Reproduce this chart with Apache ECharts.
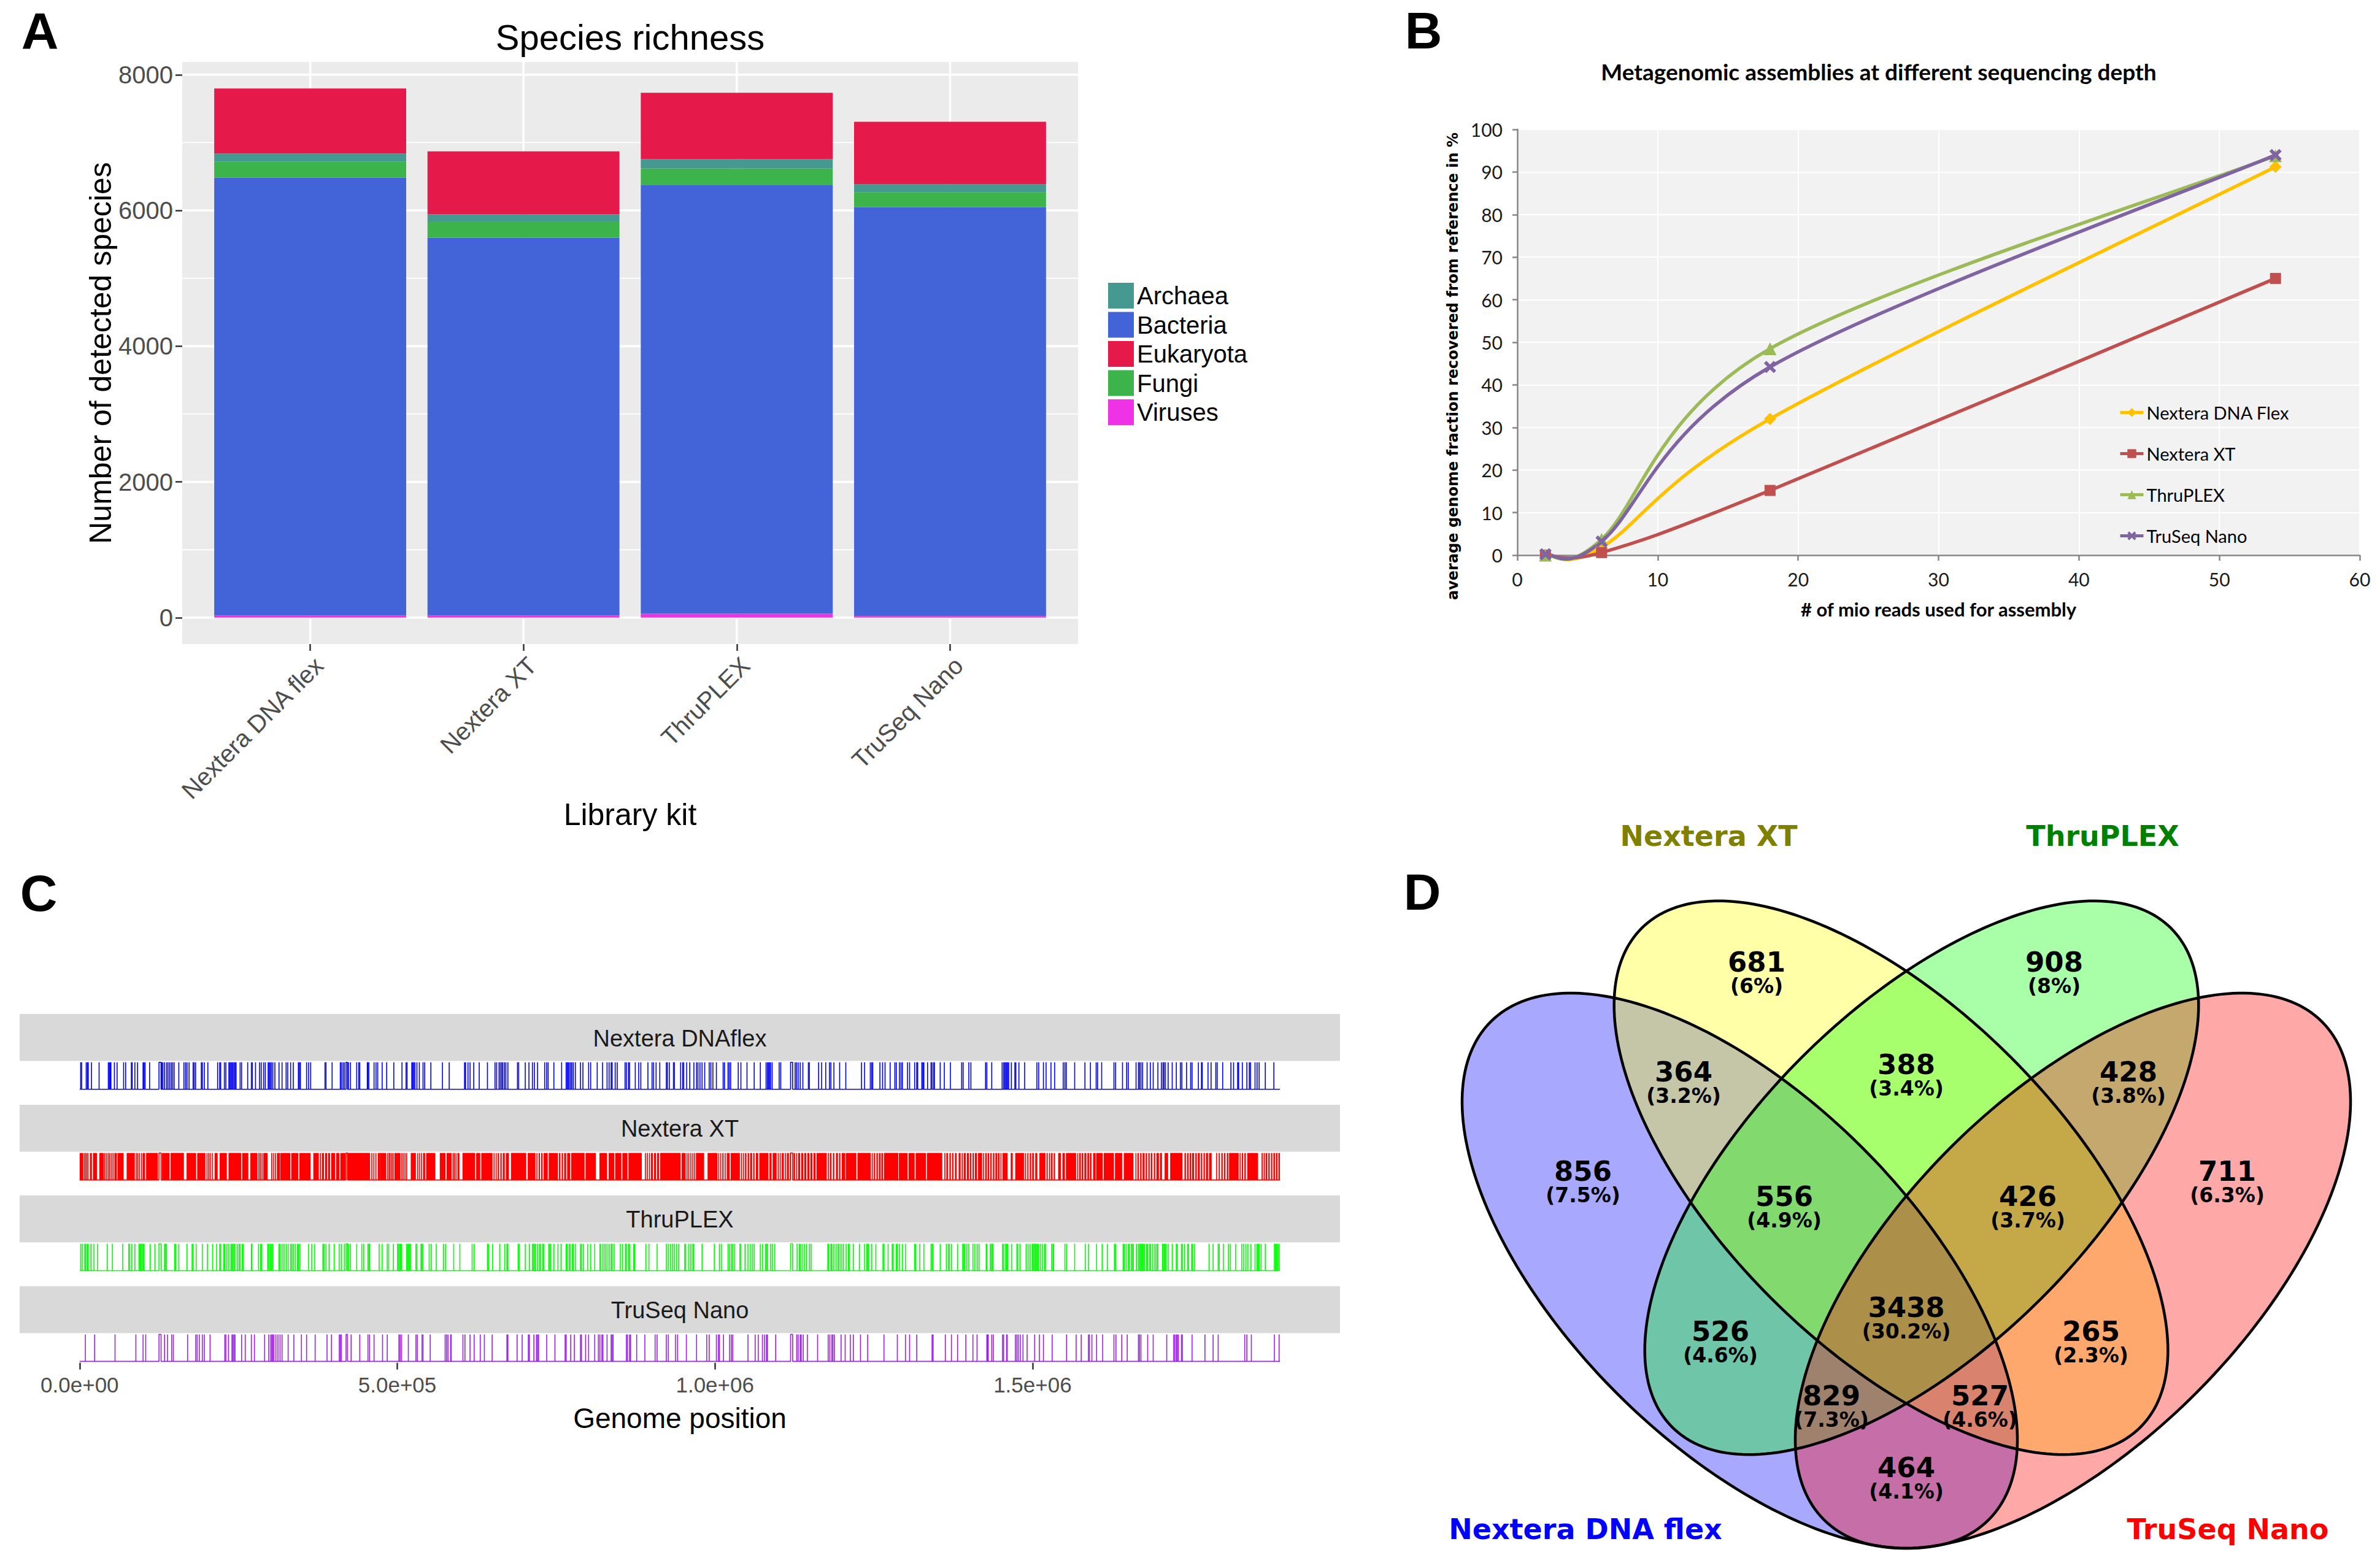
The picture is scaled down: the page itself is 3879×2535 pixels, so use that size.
<!DOCTYPE html>
<html><head><meta charset="utf-8">
<script src="https://cdn.jsdelivr.net/npm/echarts@6/dist/echarts.min.js"></script>
<style>html,body{margin:0;padding:0;background:#fff}#c{width:3879px;height:2535px}</style>
</head><body><div id="c"></div>
<script>
// ================= DATA =================
// Panel A : species richness (stacked)
const kits = ['Nextera DNA flex', 'Nextera XT', 'ThruPLEX', 'TruSeq Nano'];
const viruses   = [32, 32, 57, 24];
const bacteria  = [6450, 5563, 6321, 6023];
const fungi     = [235, 242, 242, 218];
const archaea   = [121, 105, 137, 121];
const eukaryota = [960, 928, 977, 920];
const richnessTicks = [0, 2000, 4000, 6000, 8000];
const richnessMinorTicks = [1000, 3000, 5000, 7000];
const kingdomLegend = ['Archaea', 'Bacteria', 'Eukaryota', 'Fungi', 'Viruses'];

// Panel B : assemblies at different depth
const mioReads   = [2, 6, 18, 54];
const fracFlex   = [0, 1.8, 32.0, 91.2];
const fracXT     = [0, 0.6, 15.2, 65.0];
const fracThru   = [0, 3.7, 48.5, 93.8];
const fracTruSeq = [0.2, 3.2, 44.2, 94.0];
const assemblyNames = ['Nextera DNA Flex', 'Nextera XT', 'ThruPLEX', 'TruSeq Nano'];

// Panel C : genome coverage tracks (positions in kb)
const trackNames = ['Nextera DNAflex', 'Nextera XT', 'ThruPLEX', 'TruSeq Nano'];
const genomeEndKb = 1889.5;
const contigBreaksKb = [[124.9, 128.1], [419.3, 421.6], [1119.1, 1122.3]];
const genomeTicks = [0, 500000, 1000000, 1500000];
const flexLinesKb = [1.6,3.2,10.3,12.2,13.5,18.7,30.6,45.1,46.7,48.3,49.2,54.7,58.9,69.2,72.4,81.4,82.7,86.9,91.1,99.8,101.4,103,110.1,129.4,131,133.6,136.8,139,141.6,144.2,146.4,148.7,156.1,164.1,166.7,169,172.2,178.6,180.2,182.5,191.5,193.1,196.3,201.8,217.2,220.4,222,227.8,230.1,234.9,236.5,238.1,239.7,241.3,243,244.6,246.2,252.6,254.9,264.5,270.3,271.9,276.8,283.2,285.8,289.6,292.2,296.7,298.3,299.9,301.8,304.1,307.3,313.8,318.6,325,327.6,332.1,336.3,344.3,345.9,347.5,357.2,360.4,363.6,386.2,387.8,397.4,410.3,411.9,414.5,416.7,423.2,426.4,436.1,439.3,440.9,452.8,453.8,455.3,463.4,466.6,469.2,
476.2,483.3,494.5,507.4,513.8,515.4,522.8,524.4,526,527.7,530.9,534.7,540.5,543.1,552.8,571.1,581.7,605.9,607.5,611.3,614.5,620.3,629,641.9,653.8,656.4,660.2,662.2,664.4,666,668.6,670.9,674.1,689.2,691.1,701.4,707.2,712.7,715.9,720.7,732,735.2,737.5,746.5,758.7,765.8,767.4,769,770.6,772.9,774.8,777.1,780.3,788.3,792.2,801.2,804.4,814.7,823.1,830.2,833.4,836.6,838.2,843,846.2,858.5,860.7,863.9,865.6,874.6,880,883.3,894.5,901,903.5,907.4,913.2,923.5,925.1,928.3,934.7,936.3,
946,949.2,950.8,955.6,960.4,966.9,971.1,973.3,976.5,979.7,983.9,991,993.6,996.8,1002.3,1012.9,1015.1,1020.6,1022.5,1024.8,1036.7,1040.9,1050.5,1061.8,1071.5,1080.5,1082.7,1084.3,1085.9,1087.6,1090.1,1101.1,1103.6,1126.2,1128.4,1131,1134.2,1138.4,1147.1,1148.7,1163.2,1168,1174.4,1180.2,1182.5,1187.3,1196.3,1206,1230.7,1235.6,1244.6,1246.8,1248.4,1259.7,1263.9,1267.8,1275.8,1283.2,1285.5,1290.3,1292.9,1295.1,1303.2,1306.4,1314.4,1317.6,1319.2,1325.7,1327.3,1328.9,1334.7,1340.2,1341.8,1344.3,1345.6,1354.6,1361.1,1370.7,1388.4,1390.7,1399.7,1402.9,
1426,1428,1435.7,1452.1,1454.4,1456,1457.6,1459.2,1460.8,1462.4,1466.6,1472.1,1473.7,1478.5,1487.5,1506.8,1509.7,1517.1,1521.3,1529,1534.8,1548.3,1550.9,1553.1,1566.3,1582.4,1591.1,1600.1,1602.4,1608.8,1628.1,1630.7,1641.6,1648.1,1650.7,1662.9,1666.7,1668.4,1670.6,1673.2,1680.3,1685.4,1689.9,1697.3,1702.8,1705.4,1707,1709.2,1713.4,1719.8,1726.3,1732.7,1735,1742.4,1748.8,1751.1,1761,1765.9,1767.1,1776.2,1781,1788.4,1790.6,1799.3,1812.2,1816.4,1822.8,1824.4,1830.2,1837.3,1841.2,1843.1,1850.2,1853.4,1856.6,1866.3,1879.8];
const xtBlocksKb = [[0,5.8],[7.1,7.7],[9.0,9.7],[11,11.6],[12.9,13.5],[16.1,19.3],[20.9,27.4],[30.9,38],[39.3,39.9],[41.8,42.5],[44.4,45.1],[47,47.6],[49.6,50.2],[52.1,52.8],[54.7,58.6],[59.5,69.2],[74,86.9],[88.5,89.5],[90.7,92],[93.3,94.9],[96.5,97.8],[99.1,103],[104.6,122.9],[129.4,141.6],[143.2,164.1],[168.3,183.4],[185,197.9],[200.2,200.8],[202.7,203.4],[205.3,206],[208.5,209.2],[212.4,217.2],[220.4,231.7],[234.3,254.2],[255.8,265.5],[268.7,280],[281.6,282.5],[283.8,284.8],[286.4,288],[289,296],[301.5,303.1],[304.4,305.7],[307.3,308.9],[310.5,315.4],[316,331.5],[333.1,344.3],[345.9,363.6],[367.8,376.5],[378.1,379.7],[381.3,384.6],[386.2,389.4],[391,394.2],[395.8,402.3],[403.9,408.7],[410.3,418.3],[422.2,457],[459.5,460.2],[462.8,463.4],[466,466.6],[469.2,473.1],
[473,482.6],[484.2,485.2],[486.5,487.4],[488.4,489],[490.7,491.6],[492.9,493.9],[495.5,505.1],[506.7,507.7],[509,510],[511.6,512.5],[514.1,515.4],[521.2,529.3],[531.5,532.5],[534.1,535.7],[537.3,538.9],[540.5,543.8],[545.4,559.8],[566.9,575.9],[577.5,585.6],[587.2,588.2],[589.4,590.4],[592,593],[594.6,597.8],[602.6,622.6],[624.2,630.6],[632.2,649.9],[651.6,653.2],[654.8,656.4],[658,660.2],[662.2,664.4],[666,669.2],[670.9,675.7],[678.9,703],[705.3,717.5],[719.1,720.7],[722.4,724.6],[726.5,728.8],[730.4,736.8],[738.4,752.9],[754.5,756.8],[758.7,761],[762.6,765.8],[767.4,772.2],[773.8,794.8],[796.4,812.5],[818.2,830.2],[832.7,841.4],[843,852.7],[854.3,862.3],[863.9,884.9],[889.7,891.3],[892.9,894.5],[896.1,897.7],[899.3,902.5],[904.2,907.4],[909,912.2],[913.8,946],
[947.6,954],[955.6,956.6],[958.2,959.5],[961.4,962.7],[964.6,965.9],[967.2,968.5],[970.1,983],[988.4,1003.9],[1005.5,1006.5],[1008.4,1009.7],[1011.6,1013.5],[1015.5,1016.8],[1018.7,1023.2],[1024.8,1039.3],[1040.9,1042.5],[1044.1,1045.7],[1047.3,1049.6],[1051.5,1053.8],[1055.4,1058.6],[1060.2,1062.4],[1064.4,1068.2],[1069.8,1084.3],[1085.9,1089.2],[1090.8,1097.2],[1098.8,1100.4],[1102,1103.6],[1105.2,1108.5],[1110.1,1111.7],[1113.3,1116.5],[1118.1,1119.1],[1123.6,1126.2],[1127.8,1129.4],[1131,1134.2],[1135.8,1139],[1140.6,1143.9],[1145.5,1148.7],[1150.3,1153.5],[1155.1,1158.3],[1159.9,1176],[1177.7,1179.3],[1180.9,1183.4],[1185.7,1188],[1190.5,1193.7],[1195.3,1197.6],[1199.5,1205],[1206,1222.7],[1224.3,1245.2],[1246.8,1248.5],[1250.1,1252.3],[1254.2,1256.5],[1258.1,1260.7],[1262,1264.5],[1266.1,1288.7],[1289.6,1303.2],[1304.8,1314.4],[1316,1332.1],[1333.7,1357.9],[1361.1,1362.7],[1364.3,1366.9],[1369.1,1371.4],[1373.3,1375.6],[1377.8,1380.4],[1383.6,1386.8],[1388.4,1390],[1391.6,1394.9],[1396.5,1399.7],[1401.3,1403.6],[1405.5,1407.7],[1409.3,1412.6],[1414.2,1419],
[1419,1420.6],[1422.2,1423.8],[1425.4,1428],[1429.3,1431.8],[1433.4,1435.7],[1437.6,1439.9],[1441.5,1444.1],[1445.3,1447.9],[1449.5,1451.1],[1452.7,1460.8],[1465.6,1468.8],[1472.7,1486.5],[1488.1,1489.8],[1491.7,1493.6],[1495.5,1497.8],[1499.4,1502],[1504.2,1507.5],[1510.7,1520.3],[1521.9,1523.9],[1525.8,1527.7],[1529,1531.6],[1533.2,1535.4],[1540.3,1544.5],[1547,1550.9],[1552.5,1568.6],[1570.2,1571.8],[1573.4,1576],[1577.3,1579.9],[1581.5,1584.7],[1586.3,1588.9],[1590.2,1592.7],[1595.3,1599.2],[1600.1,1610.4],[1612,1628.1],[1629.7,1641],[1643.6,1658.7],[1661.9,1663.5],[1665.1,1667.4],[1669.3,1671.6],[1673.2,1676.4],[1678,1680.3],[1682.2,1684.4],[1686,1688.6],[1690.9,1693.1],[1695,1698.9],[1700.5,1703.7],[1707.9,1713.4],[1716.6,1735.9],[1739.1,1741.4],[1743.3,1745.6],[1747.2,1749.8],[1751.1,1754.3],[1756.2,1758.5],[1760.1,1763.3],[1764.9,1767.1],[1769.1,1771.3],[1772.9,1776.2],[1777.8,1781.9],[1789,1790.6],[1792.9,1794.8],[1797.1,1799.3],[1801.3,1803.5],[1805.8,1808.3],[1809.3,1824.4],[1826,1827.6],[1829.2,1831.5],[1833.4,1835.7],[1837.9,1855],[1860.5,1862.4],[1863.7,1865.6],[1866.9,1869.5],[1871.1,1873.3],[1875.3,1877.5],[1879.1,1881.7],[1883,1885.6],[1886.9,1889.4]];
const thruLinesKb = [1.6,3.9,8.0,9.7,12.2,13.5,17.7,22.5,28.3,43.5,51.5,67.6,77.2,78.8,82.1,86.9,93.3,95,96.6,98.2,99.8,101.4,111,118.4,133.6,135.2,136.8,149.6,151.2,156.1,169,177,178.6,183.4,193.1,201.1,209.2,215.6,220.4,222,226.9,228.5,231.7,234.9,238.1,239.7,241.3,243,244.6,247.8,251,252.6,255.8,257.4,270.3,270.9,281.6,284.8,286.4,296,297.7,299.9,301.8,304.1,313.8,315.4,318.6,321.8,325,328.2,332.1,334,336.3,339.5,342.7,344.3,346.9,360.4,365.2,370.1,382.9,384.6,387.8,392.6,400.6,408.7,411.9,416.7,423.2,426.4,436.1,444.1,447.3,453.8,455.3,456.3,471.4,
476.2,484.2,486.5,493.9,500.3,501.9,503.5,505.1,506.7,514.8,516.4,518,519.6,521.2,529.3,530.9,537.3,538.9,540.5,550.2,553.4,561.4,572.7,575.9,588.8,598.5,617.8,621,641.9,643.5,650,661.2,669.2,672.5,674.1,690.2,691.8,701.4,707.9,712.7,714.3,715.9,717.5,720.7,724,725.6,728.8,730.4,738.4,740,741.6,746.5,752.9,757.7,765.8,767.4,770.6,772.2,775.4,777.1,780.3,788.3,789.9,793.1,799.6,804.4,810.8,818.9,820.5,823.7,826.9,830.2,833.4,836.6,838.2,841.4,851.1,854.3,859.1,860.7,863.9,865.6,872,873.6,891.3,896.1,909,923.5,926.7,929.9,933.1,936.3,939.6,942.8,
952.4,954,958.8,962,965.3,966.9,979.7,999,1007.1,1010.3,1020.6,1023.2,1025.8,1028,1031.2,1039.3,1040.9,1047.3,1052.1,1055.4,1058.6,1061.8,1071.5,1074.7,1079.5,1081.1,1082.7,1087.6,1090.8,1094,1129.4,1132.6,1134.2,1137.4,1140.6,1143.9,1148.7,1151.3,1177.7,1179.3,1182.5,1184.1,1187.3,1190.5,1193.7,1195.4,1198.6,1201.8,1206.6,1209.8,1211.4,1217.9,1227.5,1235.6,1238.8,1240.4,1242,1246.8,1253.3,1264.5,1266.1,1272.6,1279,1280.6,1285.5,1287.1,1290.3,1295.1,1299.9,1314.4,1316,1322.5,1328.9,1340.2,1341.8,1343.4,1354.6,1364.3,1367.5,1369.1,1372.3,1382,1390,1391.6,1393.3,1396.5,1399.7,1406.1,1409.3,1412.6,1415.8,
1427,1428,1433.4,1435,1436.7,1437.6,1452.7,1454.4,1457.6,1459.2,1460.8,1467.2,1475.3,1476.9,1480.1,1489.8,1493,1496.2,1499.4,1501,1502.6,1504.2,1505.8,1507.4,1509.1,1512.3,1515.5,1518.7,1520.3,1530,1532.2,1533.2,1550.9,1553.5,1566.3,1583.1,1587.9,1600.8,1609.5,1617.8,1628.8,1630.7,1642.6,1644.2,1647.4,1650.7,1652.3,1655.5,1657.1,1658.7,1663.5,1666.7,1668.4,1670,1671.6,1673.2,1674.8,1676.4,1679.6,1681.2,1684.4,1686,1689.3,1692.5,1695.7,1697.3,1704.7,1705.4,1707,1708.6,1710.2,1713.4,1719.8,1726.3,1727.9,1734.3,1735.9,1739.1,1744,1745.6,1750.4,1752,1755.2,1777.8,1784.2,1792.2,1793.9,1800.3,1808.3,1811.5,1819.6,1829.2,1832.5,1835.7,1838.9,1843.7,1850.2,1853.4,1855,1856.6,1859.8,1866.3,1880.7,1882.3,1884,1885.6,1888.1];
const truseqLinesKb = [9,23.5,55.7,88.5,99.8,104,133.6,138.4,144.8,147.4,169.9,182.8,185,188.3,193.1,196.3,205.3,228.5,230.1,234.3,239.7,241.3,243,244.6,254.9,260.7,270.3,275.1,291.2,297.7,300.9,302.5,304.1,305.7,308.9,312.2,315.4,318.6,328.2,337.2,349.1,357.2,370.7,389.4,396.4,408.7,410.3,411.9,427.3,440.9,453.8,456.3,463.4,
476.8,484.2,502.6,504.5,506.7,517.4,529.3,531.5,538.9,540.5,551.8,575.3,577.5,579.8,584,584.9,603.3,606.5,614.5,621,630.6,637.1,649.3,672.5,674.1,688.6,696.6,706.3,707.9,715,719.1,720.7,722.4,735.2,748.1,764.2,765.8,772.9,778.7,788.3,789.9,796.4,801.2,810.8,816.6,818.9,822.1,823.7,830.2,836.6,838.2,839.8,860.7,862.3,865.6,867.2,876.8,889.7,905.8,909,923.5,926.7,938,941.2,
955,971.1,987.1,991,1002.3,1005.5,1007.1,1013.5,1023.2,1025.8,1028,1052.1,1063.4,1068.2,1074.7,1077.9,1081.1,1082.7,1095.6,1128.7,1131,1134.2,1135.8,1139,1145.5,1161.6,1178.3,1180.9,1184.1,1185.7,1188,1198.6,1205,1213.1,1217.9,1229.1,1240.4,1266.1,1287.1,1299.9,1306.4,1317.6,1341.8,1343.4,1362.7,1372.3,1382,1394.9,1406.1,1412.6,
1428,1429.3,1430.2,1435.7,1438.3,1452.7,1454.4,1459.2,1460.1,1473,1475.3,1477.5,1480.7,1484.9,1491.4,1503.3,1510.7,1517.1,1530.9,1553.5,1568.6,1576.6,1587.9,1589.5,1593.4,1600.8,1610.4,1628.1,1631.3,1640.4,1649,1666.7,1668.4,1670.6,1681.2,1689.9,1711.2,1722.1,1724,1726.3,1727.9,1729.5,1734.3,1735.9,1751.1,1771.3,1784.2,1792.2,1834,1837.3,1844.4,1880.7,1888.1];

// Panel D : Venn diagram
const vennSets = ['Nextera DNA flex', 'Nextera XT', 'ThruPLEX', 'TruSeq Nano'];
const vennCounts   = [856, 681, 908, 711, 364, 388, 428, 556, 426, 3438, 526, 265, 829, 527, 464];
const vennPercents = ['7.5%', '6%', '8%', '6.3%', '3.2%', '3.4%', '3.8%', '4.9%', '3.7%', '30.2%', '4.6%', '2.3%', '7.3%', '4.6%', '4.1%'];

// ================= LAYOUT (venn geometry in its own unit space) =================
const vennEllipses = [ // cx, cy, a, b, angle
  [585.5, 463.5, 574, 283, -45],
  [832, 615, 575, 277, -45],
  [882, 615, 575, 277, 45],
  [1128.5, 463.5, 574, 283, 45]
];
// number centres; the percentage sits just below
const vennLabelAnchors = [[330,626],[613,967],[1098,967],[1380,626],[494,788],[857,800],[1219,788],[658,585],[1055,585],[857,404],[554,365],[1158,365],[735,260],[977,260],[857,143]];
const vennSetAnchors = [[334,42],[535,1172],[1177,1172],[1381,42]];

// ================= STYLES =================
const KCOL = {Archaea:'#469990', Bacteria:'#4363D8', Eukaryota:'#E6194B', Fungi:'#3CB44B', Viruses:'#F032E6'};
const BCOL = ['#FFC000', '#C0504D', '#9BBB59', '#8064A2'];
const TCOL = ['#0000FF', '#FF0000', '#00FF00', '#A020F0'];
const VFILL = ['rgba(0,0,255,0.34)', 'rgba(255,255,0,0.34)', 'rgba(0,255,0,0.34)', 'rgba(255,0,0,0.34)'];
const VTEXT = ['#0000FF', '#808000', '#008000', '#FF0000'];
const SANS = 'Liberation Sans';

const chart = echarts.init(document.getElementById('c'), null, {renderer: 'svg', width: 3879, height: 2535});

// ---- Panel A helpers
const stackDefs = [['Viruses', viruses], ['Bacteria', bacteria], ['Fungi', fungi], ['Archaea', archaea], ['Eukaryota', eukaryota]];
const cum = kits.map(() => 0);
const stackRanges = stackDefs.map(([name, arr]) => arr.map((v, i) => { const r = [i + 1, cum[i], cum[i] + v]; cum[i] += v; return r; }));
const aMax = Math.max(...cum);
const aGridData = [];
richnessTicks.forEach(v => aGridData.push([v, 0]));
richnessMinorTicks.forEach(v => aGridData.push([v, 1]));
kits.forEach((k, i) => aGridData.push([i + 1, 2]));

const barSeries = stackDefs.map(([name], s) => ({
  type: 'custom', name, xAxisIndex: 0, yAxisIndex: 0, data: stackRanges[s], encode: {x: 0, y: [1, 2]},
  itemStyle: {color: KCOL[name]}, z: 3,
  renderItem: (params, api) => {
    const x = api.value(0), y0 = api.value(1), y1 = api.value(2);
    const p0 = api.coord([x - 0.45, y1]), p1 = api.coord([x + 0.45, y0]);
    return {type: 'rect', shape: {x: p0[0], y: p0[1], width: p1[0] - p0[0], height: p1[1] - p0[1]}, style: {fill: KCOL[name]}};
  }
}));

// ---- Panel B
const bArrays = [fracFlex, fracXT, fracThru, fracTruSeq];
const bSymbols = ['diamond', 'rect', 'triangle', 'path://M2,0L5,3L8,0L10,2L7,5L10,8L8,10L5,7L2,10L0,8L3,5L0,2Z'];
const bSizes = [20, 18, 21, 20];
const bSeries = [];
bArrays.forEach((arr, i) => {
  const pts = mioReads.map((x, j) => [x, arr[j]]);
  // smoothed curve (Catmull-Rom bezier, like the spreadsheet's smoothed line)
  bSeries.push({
    type: 'custom', name: 'curve' + i, xAxisIndex: 1, yAxisIndex: 1, data: [pts[0]], encode: {x: 0, y: 1}, z: 2, silent: true,
    renderItem: (params, api) => {
      const P = pts.map(p => api.coord(p));
      const children = [];
      for (let k = 0; k < P.length - 1; k++) {
        const p0 = P[Math.max(k - 1, 0)], p1 = P[k], p2 = P[k + 1], p3 = P[Math.min(k + 2, P.length - 1)];
        children.push({type: 'bezierCurve', shape: {
          x1: p1[0], y1: p1[1], x2: p2[0], y2: p2[1],
          cpx1: p1[0] + (p2[0] - p0[0]) / 6, cpy1: p1[1] + (p2[1] - p0[1]) / 6,
          cpx2: p2[0] - (p3[0] - p1[0]) / 6, cpy2: p2[1] - (p3[1] - p1[1]) / 6},
          style: {fill: 'none', stroke: BCOL[i], lineWidth: 5.5, lineCap: 'round'}});
      }
      return {type: 'group', children};
    }
  });
  bSeries.push({
    type: 'line', name: assemblyNames[i], xAxisIndex: 1, yAxisIndex: 1,
    symbol: bSymbols[i], symbolSize: bSizes[i], showSymbol: true,
    lineStyle: {width: 5, color: BCOL[i], opacity: 0}, itemStyle: {color: BCOL[i]},
    data: pts, z: 3
  });
});
const bLegendCenters = [673, 740, 807, 874];

// ---- Panel C
const trackMarks = [
  flexLinesKb.map(p => [p * 1000, p * 1000]),
  xtBlocksKb.map(b => [b[0] * 1000, b[1] * 1000]),
  thruLinesKb.map(p => [p * 1000, p * 1000]),
  truseqLinesKb.map(p => [p * 1000, p * 1000])
];
function baseline() {
  const pts = [[0, 0]];
  contigBreaksKb.forEach(([a, b]) => { pts.push([a * 1000, 0], [a * 1000, 1], [b * 1000, 1], [b * 1000, 0]); });
  pts.push([genomeEndKb * 1000, 0]);
  return pts;
}
const gMin = -0.05 * genomeEndKb * 1000, gMax = 1.05 * genomeEndKb * 1000;
const trackTop = k => 1729.5 + 147.9 * k;
function sci(v) {
  if (v === 0) return '0.0e+00';
  const e = Math.floor(Math.log10(v));
  const m = v / Math.pow(10, e);
  return m.toFixed(1) + 'e+' + String(e).padStart(2, '0');
}
const cSeries = [];
trackMarks.forEach((marks, k) => {
  cSeries.push({
    type: 'custom', name: 'track' + k, xAxisIndex: 2 + k, yAxisIndex: 2 + k, data: marks, encode: {x: [0, 1]}, z: 2, silent: true,
    renderItem: (params, api) => {
      const t = api.coord([api.value(0), 1]);
      const b = api.coord([api.value(1), 0]);
      let x = t[0], w = b[0] - t[0];
      if (w < 1.6) { x = (t[0] + b[0]) / 2 - 0.8; w = 1.6; }
      return {type: 'rect', shape: {x, y: t[1], width: w, height: b[1] - t[1]}, style: {fill: TCOL[k]}};
    }
  });
  cSeries.push({
    type: 'line', name: 'base' + k, xAxisIndex: 2 + k, yAxisIndex: 2 + k, data: baseline(), showSymbol: false, symbol: 'none',
    lineStyle: {width: 1.6, color: TCOL[k]}, z: 3, silent: true
  });
});

// ---- Panel D
function ellipsePts(api, e) {
  const [cx, cy, a, b, ang] = e; const t = ang * Math.PI / 180; const pts = [];
  for (let i = 0; i < 240; i++) {
    const u = 2 * Math.PI * i / 240, dx = a * Math.cos(u), dy = b * Math.sin(u);
    pts.push(api.coord([cx + dx * Math.cos(t) - dy * Math.sin(t), cy + dx * Math.sin(t) + dy * Math.cos(t)]));
  }
  return pts;
}
const dSeries = [
  {type: 'custom', name: 'vennFill', xAxisIndex: 6, yAxisIndex: 6, data: vennEllipses, encode: {x: 0, y: 1}, z: 1, silent: true,
   renderItem: (params, api) => ({type: 'polygon', shape: {points: ellipsePts(api, vennEllipses[params.dataIndex])}, style: {fill: VFILL[params.dataIndex]}})},
  {type: 'custom', name: 'vennLine', xAxisIndex: 6, yAxisIndex: 6, data: vennEllipses, encode: {x: 0, y: 1}, z: 2, silent: true,
   renderItem: (params, api) => ({type: 'polygon', shape: {points: ellipsePts(api, vennEllipses[params.dataIndex])}, style: {fill: 'none', stroke: '#000', lineWidth: 4.5}})},
  {type: 'custom', name: 'vennCounts', xAxisIndex: 6, yAxisIndex: 6, data: vennLabelAnchors, encode: {x: 0, y: 1}, z: 4, silent: true,
   renderItem: (params, api) => {
     const p = api.coord([api.value(0), api.value(1)]); const i = params.dataIndex;
     return {type: 'group', children: [
       {type: 'text', x: p[0], y: p[1], style: {text: String(vennCounts[i]), fontFamily: 'DejaVu Sans', fontWeight: 'bold', fontSize: 45, lineHeight: 40, fill: '#000', align: 'center', verticalAlign: 'middle'}},
       {type: 'text', x: p[0], y: p[1] + 39, style: {text: '(' + vennPercents[i] + ')', fontFamily: 'DejaVu Sans', fontWeight: 'bold', fontSize: 33, lineHeight: 34, fill: '#000', align: 'center', verticalAlign: 'middle'}}
     ]};
   }},
  {type: 'custom', name: 'vennSets', xAxisIndex: 6, yAxisIndex: 6, data: vennSetAnchors, encode: {x: 0, y: 1}, z: 4, silent: true,
   renderItem: (params, api) => {
     const p = api.coord([api.value(0), api.value(1)]); const i = params.dataIndex;
     return {type: 'text', x: p[0], y: p[1], style: {text: vennSets[i], fontFamily: 'DejaVu Sans', fontWeight: 'bold', fontSize: 46, fill: VTEXT[i], align: 'center', verticalAlign: 'middle'}};
   }}
];

// ---- strips + titles
const graphics = [];
function txt(text, x, y, size, opts) {
  return {type: 'text', x, y, z: 10, style: Object.assign({text, fontSize: size, fontFamily: SANS, fill: '#000', align: 'center', verticalAlign: 'middle'}, opts || {})};
}
[['A', 65, 51], ['B', 2320, 50], ['C', 63, 1456], ['D', 2318, 1454]].forEach(([t, x, y]) => graphics.push(txt(t, x, y, 84, {fontWeight: 'bold'})));
graphics.push(txt('Species richness', 1027, 60, 58));
graphics.push(txt('Library kit', 1027, 1328, 50));
graphics.push(txt('Metagenomic assemblies at different sequencing depth', 3062, 116, 37, {fontFamily: 'Lato', fontWeight: 'bold'}));
// y title of panel B (placed like the spreadsheet's, a little below the axis middle)
graphics.push(Object.assign(txt('average genome fraction recovered from reference in %', 2368, 597, 24, {fontFamily: 'DejaVu Sans', fontWeight: 'bold'}), {rotation: Math.PI / 2}));
trackNames.forEach((n, k) => {
  graphics.push({type: 'rect', z: 1, shape: {x: 32, y: trackTop(k) - 76.5, width: 2152, height: 76.5}, style: {fill: '#D9D9D9'}});
  graphics.push(txt(n, 1108, trackTop(k) - 37, 38, {fill: '#1A1A1A'}));
});

const xAxes = [
  {gridIndex: 0, type: 'value', min: 0.4, max: 4.6,
   axisLine: {show: false, onZero: false}, splitLine: {show: false},
   axisTick: {show: true, customValues: [1, 2, 3, 4], length: 11, lineStyle: {color: '#333333', width: 2.5}},
   axisLabel: {customValues: [1, 2, 3, 4], formatter: v => kits[Math.round(v) - 1], rotate: 45, margin: 14, verticalAlign: 'top', fontSize: 40, color: '#4D4D4D', fontFamily: SANS}},
  {gridIndex: 1, type: 'value', min: 0, max: 60, interval: 10,
   axisLine: {show: true, onZero: false, lineStyle: {color: '#868686', width: 2.5}},
   axisTick: {show: true, length: 9, lineStyle: {color: '#868686', width: 2.5}},
   axisLabel: {fontFamily: 'Lato', fontSize: 30, color: '#1A1A1A', margin: 24},
   splitLine: {show: true, lineStyle: {color: '#FFFFFF', width: 2}},
   name: '# of mio reads used for assembly', nameLocation: 'middle', nameGap: 72,
   nameTextStyle: {fontFamily: 'Lato', fontWeight: 'bold', fontSize: 31, color: '#000'}}
];
const yAxes = [
  {gridIndex: 0, type: 'value', min: -0.05 * aMax, max: 1.05 * aMax,
   axisLine: {show: false, onZero: false}, splitLine: {show: false},
   axisTick: {show: true, customValues: richnessTicks, length: 11, lineStyle: {color: '#333333', width: 2.5}},
   axisLabel: {customValues: richnessTicks, formatter: v => String(v), margin: 15, fontSize: 40, color: '#4D4D4D', fontFamily: SANS},
   name: 'Number of detected species', nameLocation: 'middle', nameGap: 105, nameTextStyle: {fontSize: 50, color: '#000', fontFamily: SANS}},
  {gridIndex: 1, type: 'value', min: 0, max: 100, interval: 10,
   axisLine: {show: true, onZero: false, lineStyle: {color: '#868686', width: 2.5}},
   axisTick: {show: true, length: 8, lineStyle: {color: '#868686', width: 2.5}},
   axisLabel: {fontFamily: 'Lato', fontSize: 30, color: '#1A1A1A', margin: 24},
   splitLine: {show: true, lineStyle: {color: '#FFFFFF', width: 2}}}
];
trackNames.forEach((n, k) => {
  const last = k === 3;
  xAxes.push({gridIndex: 2 + k, type: 'value', min: gMin, max: gMax, show: last,
    axisLine: {show: false, onZero: false}, splitLine: {show: false},
    axisTick: {show: last, customValues: genomeTicks, length: 11, lineStyle: {color: '#333333', width: 2.5}},
    axisLabel: {show: last, customValues: genomeTicks, formatter: sci, fontSize: 35, color: '#4D4D4D', margin: 18, fontFamily: SANS},
    name: last ? 'Genome position' : '', nameLocation: 'middle', nameGap: 67, nameTextStyle: {fontSize: 46, color: '#000', fontFamily: SANS}});
  yAxes.push({gridIndex: 2 + k, type: 'value', min: -0.05, max: 1.05, show: false, splitLine: {show: false}, axisLine: {onZero: false}});
});
xAxes.push({gridIndex: 6, type: 'value', min: 0, max: 1629, show: false, splitLine: {show: false}});
yAxes.push({gridIndex: 6, type: 'value', min: 0, max: 1235, show: false, splitLine: {show: false}});

const legends = [{
  data: kingdomLegend, orient: 'vertical', left: 1806, top: 461, itemWidth: 42, itemHeight: 42, itemGap: 5.5, icon: 'rect', padding: 0,
  textStyle: {fontSize: 40, color: '#000', fontFamily: SANS}, selectedMode: false
}];
assemblyNames.forEach((n, i) => legends.push({
  data: [n], orient: 'vertical', left: 3453, top: bLegendCenters[i] - 15, itemWidth: 38, itemHeight: 18, padding: 0, selectedMode: false,
  lineStyle: {opacity: 1, width: 5}, textStyle: {fontFamily: 'Lato', fontSize: 29, color: '#000'}
}));

const option = {
  animation: false,
  backgroundColor: '#FFFFFF',
  textStyle: {fontFamily: SANS},
  grid: [
    {left: 297, top: 101, width: 1460, height: 949, show: true, backgroundColor: '#EBEBEB', borderWidth: 0},
    {left: 2473, top: 211, width: 1373, height: 694, show: true, backgroundColor: '#F2F2F2', borderWidth: 0},
    ...[0, 1, 2, 3].map(k => ({left: 32, top: trackTop(k), width: 2152, height: 48.4, show: false})),
    {left: 2250, top: 1300, width: 1629, height: 1235, show: false}
  ],
  xAxis: xAxes,
  yAxis: yAxes,
  legend: legends,
  graphic: graphics,
  series: [
    {type: 'custom', name: 'aGrid', xAxisIndex: 0, yAxisIndex: 0, data: aGridData, z: 1, silent: true,
     renderItem: (params, api) => {
       const cs = params.coordSys; const v = api.value(0), kind = api.value(1);
       if (kind === 2) {
         const p = api.coord([v, 0]);
         return {type: 'line', shape: {x1: p[0], y1: cs.y, x2: p[0], y2: cs.y + cs.height}, style: {stroke: '#FFFFFF', lineWidth: 3.6}};
       }
       const p = api.coord([1, v]);
       return {type: 'line', shape: {x1: cs.x, y1: p[1], x2: cs.x + cs.width, y2: p[1]}, style: {stroke: '#FFFFFF', lineWidth: kind === 0 ? 3.6 : 1.8}};
     }},
    ...barSeries,
    ...bSeries,
    ...cSeries,
    ...dSeries
  ]
};
chart.setOption(option);
</script>
</body></html>
